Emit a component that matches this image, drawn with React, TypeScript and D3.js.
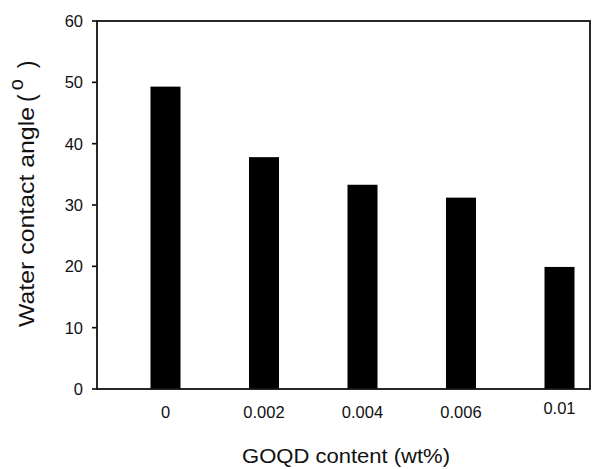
import React from "react";
import * as d3 from "d3";

// GOQD loading (wt%) and the measured water contact angle (degrees)
const categories: string[] = ["0", "0.002", "0.004", "0.006", "0.01"];
const contactAngle: number[] = [49.3, 37.8, 33.3, 31.2, 19.9];
const yTicks: number[] = [0, 10, 20, 30, 40, 50, 60];

const W = 593;
const H = 469;
const plot = { left: 97, right: 590, top: 21, bottom: 389 };
const font = "'Liberation Sans', Arial, Helvetica, sans-serif";

export default function App() {
  const y = d3.scaleLinear().domain([0, 60]).range([plot.bottom, plot.top]);
  const x = d3.scalePoint<string>().domain(categories).range([165.5, 559.5]);
  const barW = 30;

  return (
    <svg
      width={W}
      height={H}
      style={{ position: "absolute", left: 0, top: 0, background: "#fff" }}
      fontFamily={font}
    >
      <rect x={0} y={0} width={W} height={H} fill="#fff" />

      {/* bars */}
      {categories.map((c, i) => (
        <rect
          key={c}
          x={(x(c) as number) - barW / 2}
          y={y(contactAngle[i])}
          width={barW}
          height={y(0) - y(contactAngle[i])}
          fill="#000"
        />
      ))}

      {/* frame */}
      <rect
        x={plot.left}
        y={plot.top}
        width={plot.right - plot.left}
        height={plot.bottom - plot.top}
        fill="none"
        stroke="#111"
        strokeWidth={1.8}
      />

      {/* y axis ticks and labels */}
      {yTicks.map((t) => (
        <g key={t}>
          <line x1={plot.left - 5} x2={plot.left} y1={y(t)} y2={y(t)} stroke="#111" strokeWidth={1.7} />
          <text
            x={plot.left - 14}
            y={y(t)}
            dy="0.36em"
            textAnchor="end"
            fontSize={16.5}
            fill="#111"
          >
            {t}
          </text>
        </g>
      ))}

      {/* x category labels */}
      {categories.map((c, i) => (
        <text
          key={c}
          x={x(c) as number}
          y={418 - (i === categories.length - 1 ? 4 : 0)}
          textAnchor="middle"
          fontSize={16.5}
          fill="#111"
        >
          {c}
        </text>
      ))}

      {/* axis titles */}
      <text
        x={346}
        y={463}
        textAnchor="middle"
        fontSize={20.5}
        textLength={208}
        lengthAdjust="spacingAndGlyphs"
        fill="#111"
      >
        GOQD content (wt%)
      </text>

      <g transform="translate(34,217) rotate(-90)">
        <text x={0} y={0} textAnchor="middle" fontSize={22} fill="#111" textLength={220} lengthAdjust="spacingAndGlyphs">
          Water contact angle
        </text>
      </g>
      <g transform="translate(35,107) rotate(-90)">
        <text x={0} y={0} textAnchor="start" fontSize={23} fill="#111">
          <tspan dx={5}>(</tspan>
          <tspan dx={4} dy={-12} fontSize={20}>o</tspan>
          <tspan dx={11} dy={12}>)</tspan>
        </text>
      </g>
    </svg>
  );
}
